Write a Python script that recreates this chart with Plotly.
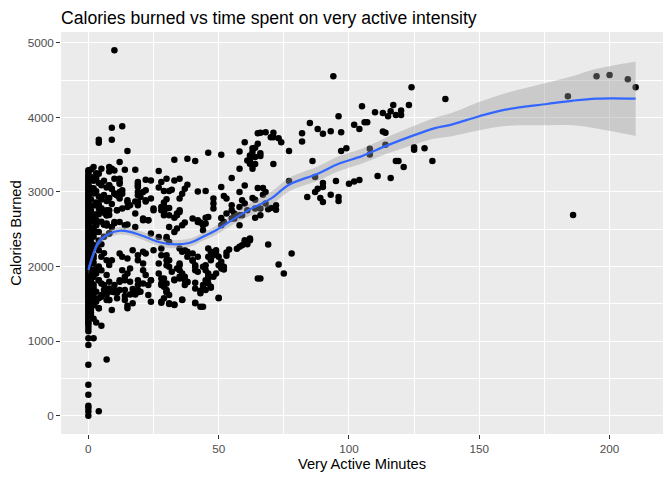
import plotly.graph_objects as go

# Days with zero very active minutes (the solid column at x = 0)
zero_minute_calories = [
    0, 57, 103, 134, 281, 415, 682, 949, 1039, 1132,
    1176, 1217, 1240, 1268, 1290, 1322, 1348, 1370, 1396, 1418,
    1444, 1466, 1492, 1515, 1538, 1566, 1588, 1610, 1634, 1655,
    1682, 1704, 1727, 1748, 1775, 1796, 1818, 1842, 1864, 1886,
    1908, 1932, 1955, 1976, 2001, 2022, 2045, 2066, 2090, 2112,
    2135, 2158, 2180, 2204, 2228, 2250, 2272, 2296, 2318, 2342,
    2365, 2388, 2412, 2436, 2458, 2480, 2504, 2530, 2553, 2576,
    2600, 2622, 2645, 2670, 2692, 2715, 2740, 2764, 2788, 2810,
    2834, 2858, 2880, 2904, 2930, 2952, 2976, 3000, 3024, 3048,
    3072, 3096, 3120, 3146, 3172, 3200, 3228, 3260, 3290,
]

# All other days: very active minutes and calories burned
very_active_minutes = [
    1, 2, 3, 5, 4, 8, 9, 10, 8, 4,
    4, 9, 9, 10, 13, 15, 12, 14, 18, 1,
    2, 3, 4, 5, 6, 7, 8, 9, 10, 1,
    2, 3, 4, 5, 6, 7, 8, 9, 11, 1,
    2, 3, 4, 5, 6, 7, 8, 4, 11, 1,
    2, 3, 4, 5, 6, 7, 3, 2, 1, 1,
    2, 3, 4, 5, 6, 7, 8, 9, 10, 1,
    2, 3, 4, 5, 6, 7, 8, 9, 2, 1,
    2, 3, 4, 5, 3, 7, 8, 6, 4, 1,
    2, 1, 2, 3, 2, 3, 7, 7, 8, 8,
    10, 5, 4, 11, 11, 4, 9, 8, 10, 1,
    2, 1, 3, 5, 2, 7, 4, 1, 2, 12,
    12, 19, 19, 24, 28, 27, 13, 13, 11, 19,
    20, 22, 19, 24, 25, 28, 29, 15, 15, 13,
    11, 8, 5, 4, 18, 21, 23, 7, 3, 6,
    15, 22, 19, 19, 29, 31, 22, 30, 18, 19,
    19, 21, 15, 16, 12, 12, 10, 12, 8, 9,
    10, 22, 25, 21, 23, 12, 10, 7, 14, 18,
    24, 27, 30, 3, 7, 9, 4, 8, 12, 13,
    15, 17, 19, 21, 22, 19, 21, 16, 25, 28,
    28, 27, 30, 13, 15, 14, 12, 16, 21, 22,
    24, 21, 27, 29, 28, 10, 6, 9, 12, 14,
    17, 20, 23, 5, 8, 14, 17, 24, 28, 4,
    15, 15, 14, 16, 19, 28, 31, 33, 29, 30,
    36, 41, 43, 50, 18, 19, 19, 19, 23, 24,
    4, 5, 17, 12, 14, 28, 28, 29, 30, 33,
    35, 37, 38, 41, 41, 43, 44, 47, 45, 46,
    51, 51, 52, 50, 49, 47, 47, 45, 53, 53,
    58, 59, 60, 62, 65, 52, 40, 41, 41, 36,
    37, 38, 35, 35, 36, 37, 31, 34, 36, 33,
    44, 44, 58, 60, 62, 57, 61, 30, 31, 35,
    38, 40, 42, 40, 46, 49, 48, 46, 47, 54,
    30, 31, 30, 35, 34, 31, 32, 41, 42, 44,
    45, 46, 46, 46, 50, 51, 49, 48, 35, 38,
    37, 33, 30, 30, 31, 44, 45, 47, 43, 50,
    31, 33, 36, 41, 44, 33, 38, 41, 46, 51,
    60, 58, 63, 62, 61, 62, 63, 58, 55, 30,
    33, 35, 38, 37, 36, 35, 32, 27, 29, 42,
    45, 51, 52, 53, 48, 48, 48, 58, 60, 59,
    60, 58, 63, 55, 55, 56, 53, 56, 59, 29,
    30, 29, 31, 34, 35, 37, 40, 42, 46, 45,
    51, 52, 28, 29, 31, 33, 34, 35, 42, 43,
    45, 51, 55, 58, 61, 64, 65, 65, 64, 66,
    94, 124, 137, 105, 117, 116, 120, 120, 118, 115,
    113, 110, 106, 107, 123, 96, 85, 102, 104, 88,
    90, 93, 97, 82, 82, 66, 68, 71, 71, 73,
    74, 70, 63, 64, 66, 64, 63, 62, 77, 71,
    86, 97, 99, 113, 114, 108, 108, 114, 125, 125,
    129, 118, 119, 121, 132, 111, 116, 95, 100, 102,
    104, 77, 87, 90, 90, 88, 87, 89, 90, 84,
    93, 96, 96, 65, 67, 67, 68, 64, 66, 68,
    69, 70, 72, 72, 66, 64, 62, 69, 78, 73,
    75, 66, 184, 195, 200, 207, 210, 186, 2, 3,
    1, 1, 1, 1, 1, 1, 1, 1, 1, 1,
    1, 1, 1, 1, 1, 2, 2, 2, 2, 2,
]
calories_burned = [
    3300, 3334, 3250, 3311, 3245, 3334, 3311, 3289, 3275, 3659,
    3700, 3700, 3860, 4900, 3880, 3548, 3401, 3298, 3298, 3200,
    3150, 3180, 3120, 3090, 3150, 3060, 3090, 3040, 2980, 3050,
    2980, 3010, 2940, 2900, 2960, 2880, 2920, 2840, 2955, 2900,
    2820, 2860, 2780, 2777, 2720, 2754, 2690, 2821, 2754, 2750,
    2680, 2620, 2700, 2600, 2563, 2687, 2560, 2520, 2600, 2450,
    2400, 2465, 2350, 2300, 2400, 2553, 2442, 2532, 2580, 2300,
    2250, 2264, 2219, 2131, 2180, 2086, 2020, 2086, 2150, 2100,
    2050, 1980, 2000, 1952, 1908, 1886, 1797, 1752, 1818, 1950,
    1860, 1800, 1720, 1663, 1596, 1529, 1551, 1627, 1707, 1671,
    1654, 1618, 1574, 1574, 1650, 1440, 1418, 1551, 1685, 1650,
    1480, 1380, 1250, 1208, 1039, 754, 59, 1550, 1300, 3178,
    3111, 3134, 3088, 3155, 3134, 3281, 3022, 2977, 2955, 3000,
    2933, 2888, 2866, 2911, 2777, 2754, 2777, 2866, 2799, 2777,
    2754, 2754, 2777, 2821, 2710, 2620, 2620, 2687, 2620, 2563,
    2563, 3164, 3111, 3067, 3014, 3014, 3022, 2901, 2874, 2821,
    2955, 3000, 2888, 2821, 3000, 2911, 3178, 3134, 3088, 3044,
    2977, 2874, 2754, 2643, 2620, 2599, 2599, 2576, 2553, 2532,
    2442, 2398, 2398, 2553, 2553, 2532, 2465, 2442, 2175, 2131,
    2108, 2219, 2153, 2198, 2175, 2086, 2041, 1975, 2219, 2242,
    2153, 2041, 2086, 1952, 1908, 1864, 1818, 1797, 1952, 1886,
    1818, 1774, 1908, 1841, 1752, 1752, 1685, 1663, 1685, 1685,
    1641, 1663, 1618, 1596, 1551, 1551, 1507, 1529, 1529, 1440,
    1440, 1476, 1604, 1627, 1654, 1516, 1497, 1493, 1574, 1654,
    1560, 1516, 1462, 1583, 1627, 1685, 1752, 1818, 1752, 1818,
    1818, 1774, 1698, 1797, 1818, 1841, 1774, 1730, 1685, 1828,
    1864, 1818, 1788, 1784, 1707, 1677, 1707, 1717, 1818, 1864,
    2019, 2064, 1997, 2131, 2175, 2198, 2108, 2019, 2189, 2144,
    2264, 2286, 2331, 2366, 1841, 1961, 2077, 2019, 1952, 2198,
    2219, 2131, 2019, 1952, 1908, 1864, 2532, 2509, 2553, 2465,
    2487, 2553, 2553, 2353, 2375, 2240, 2300, 2375, 2331, 2242,
    2198, 2175, 2131, 2086, 2242, 2219, 2153, 2131, 2086, 2230,
    2153, 2086, 2019, 2041, 1975, 1997, 1930, 1997, 1930, 1997,
    1952, 1908, 1841, 1774, 2019, 1975, 1908, 1864, 1841, 1797,
    1752, 1818, 1774, 1663, 1618, 1752, 1685, 1730, 1641, 1574,
    1507, 1484, 1551, 1507, 1462, 3432, 3445, 3414, 3525, 3499,
    3668, 3543, 3588, 3489, 3422, 3378, 3356, 3311, 3187, 3178,
    3155, 3178, 3098, 3044, 2977, 2911, 3030, 3060, 2860, 3008,
    3014, 3067, 2946, 2911, 2911, 2844, 2777, 3000, 3088, 2888,
    2844, 2799, 2920, 2821, 2754, 2710, 2710, 2643, 2687, 2821,
    2777, 2687, 2687, 2710, 2754, 2590, 2643, 2599, 2666, 2576,
    2553, 2599, 2800, 2732, 2786, 2656, 2687, 2732, 2620, 2590,
    2656, 2652, 2643, 2687, 2754, 2777, 3646, 3789, 3592, 3520,
    4551, 4404, 4248, 4150, 4167, 4083, 4091, 4033, 4033, 4016,
    4060, 4070, 3936, 3936, 4167, 4016, 3926, 3900, 3846, 3846,
    3780, 3815, 3802, 3789, 3676, 3793, 3802, 3793, 3735, 3722,
    3668, 3735, 3540, 3468, 3481, 3374, 3311, 3430, 3548, 3374,
    3414, 3548, 3588, 3810, 3793, 3579, 3503, 3632, 3601, 3566,
    3588, 3414, 3414, 3334, 3414, 3213, 3187, 3147, 3111, 3142,
    3160, 3147, 3200, 3120, 3067, 3044, 3000, 2920, 2866, 2933,
    2964, 2933, 2880, 3053, 3053, 2964, 3000, 2897, 2777, 2844,
    2767, 2786, 2821, 2763, 2687, 2656, 2353, 2295, 2175, 2028,
    1908, 1841, 4283, 4551, 4568, 4511, 4404, 2693, 3050, 2700,
    1340, 1420, 1520, 1610, 1700, 1790, 1880, 1960, 2040, 2140,
    2230, 2330, 2420, 2520, 2620, 1580, 1760, 1930, 2110, 2290,
]

# Loess smooth and its confidence band
smooth_minutes = [0, 2, 4, 8, 12, 16, 21, 27, 32, 39, 44, 49, 56, 62, 70,
                  77, 88, 96, 105, 114, 124, 133, 139, 150, 160, 176, 186, 195, 210]
smooth_calories = [1955, 2175, 2330, 2440, 2480, 2465, 2410, 2330, 2300, 2320,
                   2400, 2487, 2643, 2767, 2910, 3098, 3245, 3378, 3481, 3615,
                   3749, 3856, 3900, 4016, 4104, 4180, 4225, 4251, 4251]
smooth_lower = [1895, 2120, 2280, 2390, 2430, 2415, 2355, 2275, 2245, 2265,
                2345, 2427, 2573, 2682, 2820, 3008, 3150, 3278, 3381, 3505,
                3624, 3716, 3745, 3826, 3884, 3895, 3895, 3851, 3751]
smooth_upper = [2015, 2230, 2380, 2490, 2530, 2515, 2465, 2385, 2355, 2375,
                2455, 2547, 2713, 2852, 3000, 3188, 3340, 3478, 3581, 3725,
                3874, 3996, 4055, 4206, 4324, 4465, 4555, 4651, 4751]

x_ticks = [0, 50, 100, 150, 200]
x_minor = [25, 75, 125, 175]
y_ticks = [0, 1000, 2000, 3000, 4000, 5000]
y_minor = [500, 1500, 2500, 3500, 4500]

FONT = "Liberation Sans, Arial, sans-serif"

minutes = [0] * len(zero_minute_calories) + very_active_minutes
calories = zero_minute_calories + calories_burned

fig = go.Figure()

fig.add_trace(go.Scatter(
    x=minutes, y=calories,
    mode="markers",
    marker=dict(color="black", size=6.5, line=dict(width=0)),
    showlegend=False,
))

# confidence band (lower edge first, upper edge filled down to it)
fig.add_trace(go.Scatter(
    x=smooth_minutes, y=smooth_lower,
    mode="lines", line=dict(width=0, shape="spline"),
    hoverinfo="skip", showlegend=False,
))
fig.add_trace(go.Scatter(
    x=smooth_minutes, y=smooth_upper,
    mode="lines", line=dict(width=0, shape="spline"),
    fill="tonexty", fillcolor="rgba(153,153,153,0.4)",
    hoverinfo="skip", showlegend=False,
))

fig.add_trace(go.Scatter(
    x=smooth_minutes, y=smooth_calories,
    mode="lines", line=dict(color="#3366FF", width=2.2, shape="spline"),
    showlegend=False,
))

axis_style = dict(
    showgrid=True, gridcolor="white", gridwidth=1.4,
    zeroline=False, showline=False,
    ticks="outside", ticklen=4, tickwidth=1.3, tickcolor="#333333",
    tickfont=dict(family=FONT, size=11.7, color="#4D4D4D"),
    automargin=False,
)

# the page body adds an 8px margin, so the figure is 8px smaller
fig.update_layout(
    width=664, height=472,
    margin=dict(l=53, r=9, t=24, b=46),
    paper_bgcolor="white",
    plot_bgcolor="#EBEBEB",
    showlegend=False,
    title=dict(
        text="Calories burned vs time spent on very active intensity",
        font=dict(family=FONT, size=17.6, color="black"),
        x=0, xref="paper", xanchor="left",
        y=1 - 9.5 / 472, yref="container", yanchor="middle",
    ),
    xaxis=dict(
        range=[-10.5, 220.5],
        tickvals=x_ticks,
        minor=dict(tickvals=x_minor, showgrid=True, gridcolor="white",
                   gridwidth=0.7, ticks=""),
        title=dict(text="Very Active Minutes", standoff=4,
                   font=dict(family=FONT, size=14.7, color="black")),
        **axis_style,
    ),
    yaxis=dict(
        range=[-245, 5145],
        tickvals=y_ticks,
        minor=dict(tickvals=y_minor, showgrid=True, gridcolor="white",
                   gridwidth=0.7, ticks=""),
        title=dict(text="Calories Burned", standoff=6,
                   font=dict(family=FONT, size=14.7, color="black")),
        **axis_style,
    ),
)

fig.write_html("out.html")
